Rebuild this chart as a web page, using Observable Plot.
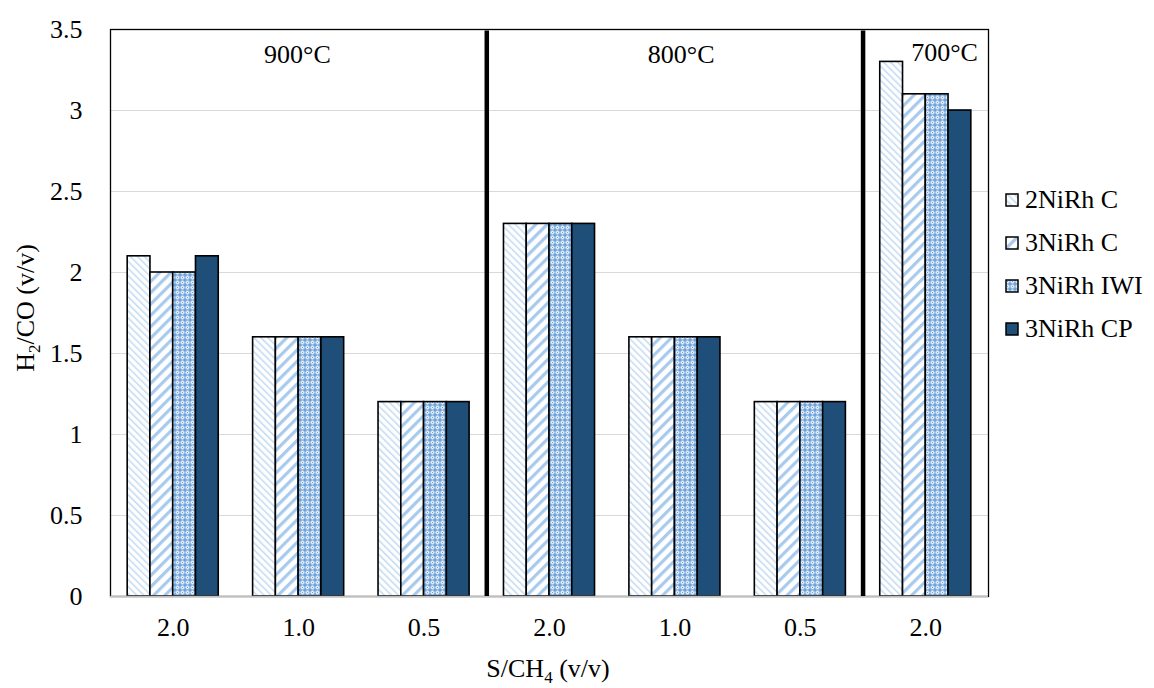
<!DOCTYPE html>
<html>
<head>
<meta charset="utf-8">
<script src="https://cdn.jsdelivr.net/npm/d3@7"></script>
<script src="https://cdn.jsdelivr.net/npm/@observablehq/plot@0.6"></script>
<style>
  body { margin: 0; background: #fff; font-family: "Liberation Serif", "Times New Roman", serif; }
  #wrap { position: relative; width: 1154px; height: 688px; }
  #legend { position: absolute; left: 1005px; top: 178px; font-size: 26px; color: #000; }
  #legend .item { display: flex; align-items: center; height: 43px; }
  #legend svg { margin-right: 6px; }
</style>
</head>
<body>
<svg width="0" height="0" style="position:absolute">
  <defs>
    <pattern id="pat0" patternUnits="userSpaceOnUse" width="5" height="5" patternTransform="rotate(-45)">
      <rect width="5" height="5" fill="#fff"/>
      <rect x="0" y="0" width="1.5" height="5" fill="#c4daf1"/>
    </pattern>
    <pattern id="pat1" patternUnits="userSpaceOnUse" width="8" height="8" patternTransform="rotate(45)">
      <rect width="8" height="8" fill="#fff"/>
      <rect x="0" y="0" width="3.2" height="8" fill="#a8caec"/>
    </pattern>
    <pattern id="pat2" patternUnits="userSpaceOnUse" width="5" height="5">
      <rect width="5" height="5" fill="#6fa2d9"/>
      <rect x="1.5" y="0.5" width="2" height="4" fill="#e8f1fb"/>
      <rect x="0.5" y="1.5" width="4" height="2" fill="#e8f1fb"/>
      <rect x="2" y="2" width="1" height="1" fill="#6fa2d9"/>
    </pattern>
  </defs>
</svg>
<div id="wrap"><div id="chart"></div><div id="legend"></div></div>
<script>
// Data
const categories = ["2.0", "1.0", "0.5", "2.0", "1.0", "0.5", "2.0"];
const temperatures = ["900°C", "800°C", "700°C"];
const series = ["2NiRh C", "3NiRh C", "3NiRh IWI", "3NiRh CP"];
const v2NiRhC   = [2.1, 1.6, 1.2, 2.3, 1.6, 1.2, 3.3];
const v3NiRhC   = [2.0, 1.6, 1.2, 2.3, 1.6, 1.2, 3.1];
const v3NiRhIWI = [2.0, 1.6, 1.2, 2.3, 1.6, 1.2, 3.1];
const v3NiRhCP  = [2.1, 1.6, 1.2, 2.3, 1.6, 1.2, 3.0];
const yTicks = [0, 0.5, 1, 1.5, 2, 2.5, 3, 3.5];

const seriesValues = [v2NiRhC, v3NiRhC, v3NiRhIWI, v3NiRhCP];
const fills = ["url(#pat0)", "url(#pat1)", "url(#pat2)", "#1f4e79"];

// table: one row per bar; x positions come from group index + series slot (band layout)
const slot = 0.1815;
const rows = [];
categories.forEach((c, g) => {
  series.forEach((s, si) => {
    const x1 = g + 0.5 + (si - 2) * slot;
    rows.push({g, s, si, x1, x2: x1 + slot, v: seriesValues[si][g]});
  });
});
// temperature section labels (placed in data units)
const tempLabels = [
  {t: temperatures[0], x: 1.49, y: 3.345},
  {t: temperatures[1], x: 4.55, y: 3.345},
  {t: temperatures[2], x: 6.65, y: 3.36}
];
const separators = [3, 6];
const catTicks = categories.map((c, i) => i + 0.5);

const font = "Liberation Serif, Times New Roman, serif";
const FS = 26;
const plot = Plot.plot({
  width: 1154,
  height: 688,
  marginLeft: 110,
  marginRight: 166,
  marginTop: 29,
  marginBottom: 92,
  style: {fontFamily: font, fontSize: FS + "px", background: "#fff", color: "#000"},
  x: {domain: [0, categories.length], axis: null},
  y: {domain: [0, 3.5], axis: null},
  marks: [
    Plot.gridY(yTicks, {stroke: "#d9d9d9", strokeOpacity: 1, strokeWidth: 1.2}),
    ...series.map((s, si) => Plot.rectY(rows.filter(d => d.si === si), {
      x1: "x1", x2: "x2", y1: 0, y2: "v",
      fill: fills[si], stroke: "#000", strokeWidth: 1.6
    })),
    Plot.frame({stroke: "#000", strokeWidth: 1.3}),
    Plot.ruleY([0], {stroke: "#bfbfbf", strokeWidth: 1.5}),
    Plot.ruleX(separators, {y1: 0, y2: 3.49, stroke: "#000", strokeWidth: 4.5}),
    Plot.text(tempLabels, {x: "x", y: "y", text: "t", fontSize: FS, fill: "#000"}),
    Plot.axisY(yTicks, {tickSize: 0, tickPadding: 28, tickFormat: d => String(d), fontSize: FS, label: null}),
    Plot.axisX(catTicks, {tickSize: 0, tickPadding: 21, tickFormat: (d, i) => categories[i], fontSize: FS, label: null})
  ]
});
document.getElementById("chart").appendChild(plot);

// axis titles with real subscripts
const svg = d3.select(plot);
const ylab = svg.append("text")
  .attr("transform", "translate(34,308) rotate(-90)")
  .attr("text-anchor", "middle")
  .attr("font-family", font).attr("font-size", FS).attr("fill", "#000");
ylab.append("tspan").text("H");
ylab.append("tspan").attr("font-size", 17).attr("dy", 6).text("2");
ylab.append("tspan").attr("dy", -6).text("/CO (v/v)");
const xlab = svg.append("text")
  .attr("x", 548).attr("y", 677)
  .attr("text-anchor", "middle")
  .attr("font-family", font).attr("font-size", FS).attr("fill", "#000");
xlab.append("tspan").text("S/CH");
xlab.append("tspan").attr("font-size", 17).attr("dy", 6).text("4");
xlab.append("tspan").attr("dy", -6).text(" (v/v)");

// legend
const legend = d3.select("#legend");
series.forEach((s, si) => {
  const item = legend.append("div").attr("class", "item");
  const sw = item.append("svg").attr("width", 14).attr("height", 14);
  sw.append("rect").attr("x", 1).attr("y", 1).attr("width", 12).attr("height", 12)
    .attr("fill", fills[si]).attr("stroke", "#000").attr("stroke-width", 1.5);
  item.append("span").text(s);
});
</script>
</body>
</html>
